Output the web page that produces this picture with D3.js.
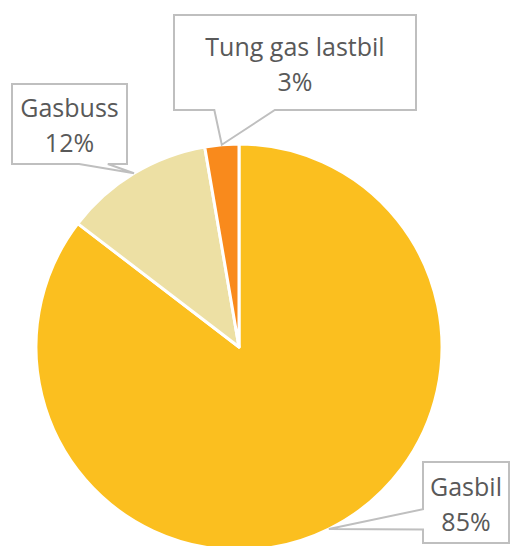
<!DOCTYPE html>
<html>
<head>
<meta charset="utf-8">
<script src="https://cdn.jsdelivr.net/npm/d3@7"></script>
<style>
  body { margin: 0; background: #fff; }
  text { font-family: "Open Sans", sans-serif; }
</style>
</head>
<body>
<div id="chart"></div>
<script>
// data
var categories = ["Gasbil", "Gasbuss", "Tung gas lastbil"];
var values = [85.4, 11.9, 2.7];
var colors = ["#FBBF1F", "#EDE0A4", "#F98A1C"];

var width = 510;
var height = 546;
var cx = 239, cy = 347, radius = 203;

// callout boxes (x, y, w, h), one per category
var boxes = [
  [423, 462, 86, 81],
  [12, 84, 115, 80],
  [174, 15, 242, 95]
];

const svg = d3.select("#chart")
  .append("svg")
  .attr("width", width)
  .attr("height", height);

const g = svg.append("g")
  .attr("transform", "translate(" + cx + "," + cy + ")");

const pie = d3.pie().sort(null).value(function(d){ return d; });
const arcs = pie(values);
const arc = d3.arc().innerRadius(0).outerRadius(radius);

g.selectAll("path.slice")
  .data(arcs)
  .enter().append("path")
  .attr("class", "slice")
  .attr("d", arc)
  .attr("fill", function(d, i){ return colors[i]; })
  .attr("stroke", "#fff")
  .attr("stroke-width", 3)
  .attr("stroke-linejoin", "round");

var total = d3.sum(values);

// wedge rect callout, base of wedge like office callouts
function callout(b, tx, ty) {
  var x = b[0], y = b[1], w = b[2], h = b[3];
  var dx = (tx - (x + w / 2)) / w, dy = (ty - (y + h / 2)) / h;
  var p = [[x, y]];
  if (Math.abs(dy) > Math.abs(dx)) {
    var a = dx < 0 ? [2, 5] : [7, 10];
    if (dy < 0) {
      p.push([x + w * a[0] / 12, y], [tx, ty], [x + w * a[1] / 12, y]);
    }
    p.push([x + w, y], [x + w, y + h]);
    if (dy > 0) {
      p.push([x + w * a[1] / 12, y + h], [tx, ty], [x + w * a[0] / 12, y + h]);
    }
    p.push([x, y + h]);
  } else {
    var c = dy < 0 ? [2, 5] : [7, 10];
    p.push([x + w, y]);
    if (dx > 0) {
      p.push([x + w, y + h * c[0] / 12], [tx, ty], [x + w, y + h * c[1] / 12]);
    }
    p.push([x + w, y + h], [x, y + h]);
    if (dx < 0) {
      p.push([x, y + h * c[1] / 12], [tx, ty], [x, y + h * c[0] / 12]);
    }
  }
  return d3.line()(p) + "Z";
}

var labels = svg.selectAll("g.label")
  .data(arcs)
  .enter().append("g")
  .attr("class", "label");

labels.append("path")
  .attr("d", function(d, i){
    var m = (d.startAngle + d.endAngle) / 2;
    var tx = cx + radius * Math.sin(m);
    var ty = cy - radius * Math.cos(m);
    return callout(boxes[i], tx, ty);
  })
  .attr("fill", "#fff")
  .attr("stroke", "#BFBFBF")
  .attr("stroke-width", 2);

labels.append("text")
  .attr("x", function(d, i){ return boxes[i][0] + boxes[i][2] / 2; })
  .attr("y", function(d, i){ return boxes[i][1] + boxes[i][3] / 2 - 7; })
  .attr("text-anchor", "middle")
  .attr("fill", "#595959")
  .attr("font-size", "25px")
  .text(function(d, i){ return categories[i]; });

labels.append("text")
  .attr("x", function(d, i){ return boxes[i][0] + boxes[i][2] / 2; })
  .attr("y", function(d, i){ return boxes[i][1] + boxes[i][3] / 2 + 28; })
  .attr("text-anchor", "middle")
  .attr("fill", "#595959")
  .attr("font-size", "25px")
  .text(function(d){ return Math.round(d.value / total * 100) + "%"; });
</script>
</body>
</html>
